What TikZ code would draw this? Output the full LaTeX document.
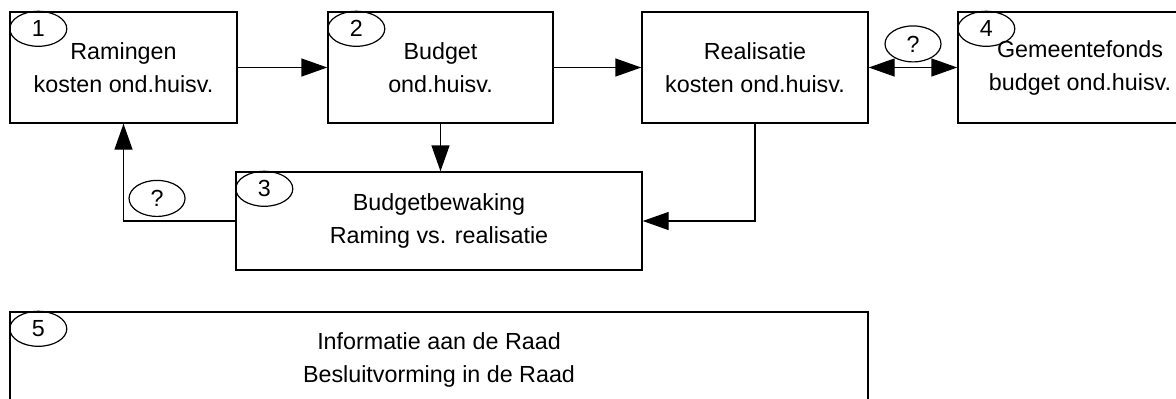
\documentclass[tikz,border=0pt]{standalone}
\usepackage{fontspec}
\setmainfont{Liberation Sans}
\usetikzlibrary{positioning,arrows.meta,shapes.geometric}
\tikzset{
    procesnode/.style={rectangle, draw=black, line width=0.7pt, align=center, inner sep=0pt, font=\fontsize{11.65}{16.5}\selectfont},
    nummernode/.style={ellipse, draw=black, line width=0.6pt, minimum width=28.5pt, minimum height=17.5pt, inner sep=0pt, font=\fontsize{11.65}{14}\selectfont},
    pijl/.style={draw=black, line width=0.7pt, -{Triangle[length=13pt,width=9pt]}}
}

\begin{document}
\begin{tikzpicture}[
                x=0.5pt, y=-0.5pt,
                % vraagteken bij een verbinding
                vraagnode/.style={
                    ellipse,
                    draw=black,
                    line width=0.6pt,
                    minimum width=28pt,
                    minimum height=18pt,
                    inner sep=0pt,
                    font=\fontsize{11.65}{14}\selectfont
                },
                dubbelpijl/.style={draw=black, line width=0.7pt, {Triangle[length=13pt,width=9pt]}-{Triangle[length=13pt,width=9pt]}}
            ]
                \useasboundingbox (0,0) rectangle (1176,398);
                \clip (0,0) rectangle (1176,398);
                % processtappen
                \node[procesnode, minimum width=113.5pt, minimum height=55.5pt] (ram) at (123.5,67.5) {Ramingen\\kosten ond.huisv.};
                \node[procesnode, minimum width=112.5pt, minimum height=55.5pt] (bud) at (440.5,67.5) {Budget\\ond.huisv.};
                \node[procesnode, minimum width=113pt, minimum height=55.5pt] (real) at (755,67.5) {Realisatie\\kosten ond.huisv.};
                \node[procesnode, minimum width=122pt, minimum height=55.5pt] (gem) at (1080,67.5) {Gemeentefonds\\budget ond.huisv.};
                \node[procesnode, minimum width=203pt, minimum height=49pt] (bew) at (439,221) {Budgetbewaking\\Raming vs. realisatie};
                \node[procesnode, minimum width=429pt, minimum height=47.5pt] (raad) at (439,359.5) {Informatie aan de Raad\\Besluitvorming in de Raad};
                % nummers
                \node[nummernode] (n1) at ([shift={(29,17.5)}]ram.north west) {1};
                \node[nummernode] (n2) at ([shift={(29,17.5)}]bud.north west) {2};
                \node[nummernode] (n3) at ([shift={(29,17.5)}]bew.north west) {3};
                \node[nummernode] (n4) at ([shift={(29,17.5)}]gem.north west) {4};
                \node[nummernode] (n5) at ([shift={(29,17.5)}]raad.north west) {5};
                % verbindingen
                \draw[pijl] (ram) -- (bud);
                \draw[pijl] (bud) -- (real);
                \draw[dubbelpijl] (real) -- node[vraagnode, above=2.5pt] (vraag1) {?} (gem);
                \draw[pijl] (bud.south) -- (bud.south |- bew.north);
                \draw[pijl] (real.south) |- (bew.east);
                \draw[pijl] (bew.west) -| node[vraagnode, pos=0.35, above=2pt] (vraag2) {?} (ram.south);
            \end{tikzpicture}
\end{document}
